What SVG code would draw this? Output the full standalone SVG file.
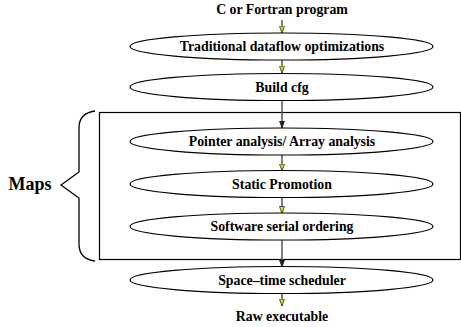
<svg xmlns="http://www.w3.org/2000/svg" width="461" height="327" viewBox="0 0 461 327">
<defs>
<style>
.t{font-family:"Liberation Serif","Times New Roman",serif;font-weight:bold;font-size:13.8px;text-anchor:middle;fill:#000}
.e{fill:#fff;stroke:#000;stroke-width:1.2}
.c{stroke:#555;stroke-width:1.5;fill:none}
</style>
<marker id="ay" viewBox="0 0 8 6" refX="7.5" refY="3" markerWidth="8" markerHeight="6" markerUnits="userSpaceOnUse" orient="auto">
<path d="M0.5,0.5 L7.5,3 L0.5,5.5 Z" fill="#e0d800" stroke="#333" stroke-width="0.8"/>
</marker>
<marker id="ak" viewBox="0 0 8 6" refX="7.5" refY="3" markerWidth="8" markerHeight="6" markerUnits="userSpaceOnUse" orient="auto">
<path d="M0.5,0.5 L7.5,3 L0.5,5.5 Z" fill="#222" stroke="#222" stroke-width="0.8"/>
</marker>
</defs>
<g id="maps">
<rect x="99.5" y="112.5" width="361" height="147" fill="none" stroke="#000" stroke-width="1.2"/>
<path d="M95,111 Q79,113 79,128 L79,172 L61,185 L79,198 L79,244 Q79,259 95,261" fill="none" stroke="#000" stroke-width="1.3"/>
<text x="30" y="190" class="t" style="font-size:18px">Maps</text>
</g>
<g id="connectors">
<path class="c" d="M282,20 V33" marker-end="url(#ay)"/>
<path class="c" d="M282,60 V73" marker-end="url(#ay)"/>
<path class="c" d="M282,100 V128" marker-end="url(#ak)"/>
<path class="c" d="M282,155 V171" marker-end="url(#ay)"/>
<path class="c" d="M282,197.5 V213.5" marker-end="url(#ay)"/>
<path class="c" d="M282,240 V267" marker-end="url(#ak)"/>
<path class="c" d="M282,293 V306" marker-end="url(#ay)"/>
</g>
<g id="n0"><text x="282" y="13.5" class="t">C or Fortran program</text></g>
<g id="n1"><ellipse class="e" cx="281.5" cy="46.5" rx="151.5" ry="13.5"/><text x="282" y="51" class="t">Traditional dataflow optimizations</text></g>
<g id="n2"><ellipse class="e" cx="281.5" cy="87" rx="151.5" ry="13.5"/><text x="282" y="91.5" class="t">Build cfg</text></g>
<g id="n3"><ellipse class="e" cx="281.5" cy="141.5" rx="151.5" ry="13.5"/><text x="282" y="146" class="t">Pointer analysis/ Array analysis</text></g>
<g id="n4"><ellipse class="e" cx="281.5" cy="184" rx="151.5" ry="13.5"/><text x="282" y="188.5" class="t">Static Promotion</text></g>
<g id="n5"><ellipse class="e" cx="281.5" cy="226.5" rx="151.5" ry="13.5"/><text x="282" y="231" class="t">Software serial ordering</text></g>
<g id="n6"><ellipse class="e" cx="281.5" cy="280" rx="151.5" ry="13.5"/><text x="282" y="284.5" class="t">Space–time scheduler</text></g>
<g id="n7"><text x="282" y="320.5" class="t">Raw executable</text></g>
</svg>
